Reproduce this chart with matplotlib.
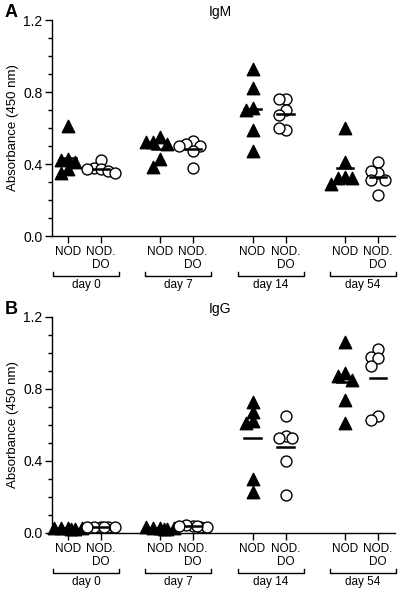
import matplotlib
matplotlib.use("Agg")
import matplotlib.pyplot as plt
import numpy as np
from matplotlib.transforms import blended_transform_factory

plt.rcParams['font.family'] = ['Liberation Sans', 'DejaVu Sans']

days = ['day 0', 'day 7', 'day 14', 'day 54']
strains = ['NOD', 'NOD.\nDO']

# IgM absorbance, per day: NOD then NOD.DO
igm_nod = [
    [0.61, 0.43, 0.42, 0.41, 0.37, 0.35],
    [0.55, 0.52, 0.51, 0.52, 0.43, 0.385],
    [0.93, 0.82, 0.71, 0.70, 0.59, 0.475],
    [0.60, 0.41, 0.33, 0.32, 0.32, 0.29],
]
igm_do = [
    [0.42, 0.38, 0.37, 0.36, 0.37, 0.35],
    [0.53, 0.51, 0.50, 0.50, 0.47, 0.38],
    [0.76, 0.76, 0.70, 0.67, 0.59, 0.60],
    [0.41, 0.35, 0.36, 0.31, 0.31, 0.23],
]

# IgG absorbance
igg_nod = [
    [0.03, 0.03, 0.025, 0.03, 0.03, 0.025],
    [0.03, 0.03, 0.025, 0.035, 0.03, 0.025],
    [0.73, 0.67, 0.62, 0.61, 0.30, 0.23],
    [1.06, 0.89, 0.87, 0.85, 0.74, 0.61],
]
igg_do = [
    [0.035, 0.035, 0.035, 0.035, 0.035, 0.035],
    [0.04, 0.043, 0.035, 0.04, 0.035, 0.04],
    [0.65, 0.54, 0.53, 0.53, 0.40, 0.21],
    [1.02, 0.98, 0.97, 0.93, 0.65, 0.63],
]


def spread(vals, step=0.21, tol=0.045):
    # simple swarm: shift points sideways when they collide
    placed = []
    offs = []
    for v in vals:
        o = None
        for k in [0, -1, 1, -2, 2]:
            if all(abs(k * step - po) > step * 0.5 or abs(v - pv) >= tol for po, pv in placed):
                o = k * step
                break
        if o is None:
            o = [-0.5, 0.5, -1.5, 1.5][len(placed) % 4] * step
        placed.append((o, v))
        offs.append(o)
    return np.array(offs)


def panel(ax, nod, do, title, letter):
    xt, xl = [], []
    tr = blended_transform_factory(ax.transData, ax.transAxes)
    for i, day in enumerate(days):
        base = 0.48 + 2.8 * i
        for j, (vals, mk, fc) in enumerate([(nod[i], '^', 'black'), (do[i], 'o', 'white')]):
            x = base + j
            v = np.array(vals)
            ax.scatter(x + spread(v), v, marker=mk, s=80 if mk == '^' else 62,
                       facecolor=fc, edgecolor='black', linewidth=1.0, zorder=3,
                       clip_on=False)
            ax.plot([x - 0.25, x + 0.25], [v.mean()] * 2, color='black', lw=1.8, zorder=4)
            xt.append(x)
            xl.append(strains[j])
        # group bracket under the axis
        c = base + 0.55
        ax.plot([c - 1.0, c - 1.0, c + 1.0, c + 1.0], [-0.165, -0.183, -0.183, -0.165],
                color='black', lw=1.0, transform=tr, clip_on=False)
        ax.text(c, -0.2, day, transform=tr, ha='center', va='top', fontsize=8.5)

    ax.set_xlim(0, 10.4)
    ax.set_ylim(0, 1.2)
    ax.set_yticks([0.0, 0.4, 0.8, 1.2])
    ax.set_yticks(np.arange(0, 1.21, 0.1), minor=True)
    ax.set_yticklabels(['0.0', '0.4', '0.8', '1.2'], fontsize=10)
    ax.set_xticks(xt)
    ax.set_xticklabels(xl, fontsize=8.5, linespacing=1.1, va='top')
    ax.tick_params(axis='x', length=5, width=1, pad=2)
    ax.tick_params(axis='y', which='major', length=5, width=1, pad=2)
    ax.tick_params(axis='y', which='minor', length=3, width=1)
    for s in ['top', 'right']:
        ax.spines[s].set_visible(False)
    for s in ['left', 'bottom']:
        ax.spines[s].set_linewidth(1.0)
    ax.set_ylabel('Absorbance (450 nm)', fontsize=9.5, labelpad=3)
    ax.text(0.49, 1.035, title, transform=ax.transAxes, fontsize=10,
            ha='center', va='center')
    ax.text(-0.137, 1.035, letter, transform=ax.transAxes, fontsize=13,
            fontweight='bold', ha='left', va='center')


fig = plt.figure(figsize=(4.04, 5.92), dpi=100)
W, H = 404, 592
axA = fig.add_axes([52 / W, (H - 236) / H, 343 / W, 216 / H])
axB = fig.add_axes([52 / W, (H - 533) / H, 343 / W, 216 / H])
panel(axA, igm_nod, igm_do, 'IgM', 'A')
panel(axB, igg_nod, igg_do, 'IgG', 'B')

fig.savefig('out.png', dpi=100)
